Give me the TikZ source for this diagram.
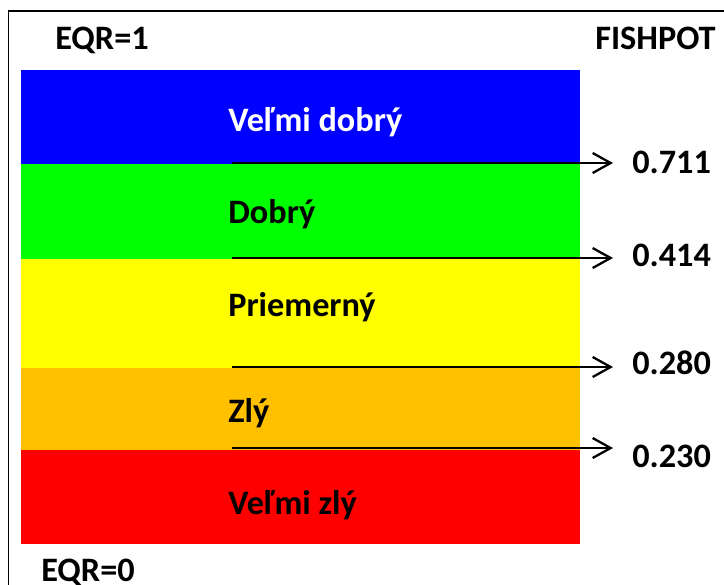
\documentclass[tikz,border=0pt]{standalone}
\usepackage{fontspec}
\setmainfont{Carlito}
\usetikzlibrary{arrows.meta}
\definecolor{bandA}{HTML}{0000FF}
\definecolor{bandB}{HTML}{00FF00}
\definecolor{bandC}{HTML}{FFFF00}
\definecolor{bandD}{HTML}{FFC000}
\definecolor{bandE}{HTML}{FF0000}

\begin{document}
\begin{tikzpicture}[x=0.02cm,y=-0.02cm,
 font=\fontsize{19.5}{23}\selectfont\bfseries,
 lab/.style={anchor=base west,inner sep=0pt},
 arr/.style={-{Straight Barb[length=3.6mm,width=4mm]},line width=1.3pt,shorten >=3.8mm}]
\useasboundingbox (0,0) rectangle (724,585);
\draw[line width=1.1pt] (8.5,11) rectangle (760,620);
% quality bands
\fill[bandA] (21,70) rectangle (580,164);
\fill[bandB] (21,164) rectangle (580,259);
\fill[bandC] (21,259) rectangle (580,368);
\fill[bandD] (21,368) rectangle (580,450);
\fill[bandE] (21,450) rectangle (580,544);
\node[lab,white] (vd) at (228,131) {Veľmi dobrý};
\node[lab] (d) at (228,223) {Dobrý};
\node[lab] (p) at (228,316) {Priemerný};
\node[lab] (z) at (228,422) {Zlý};
\node[lab] (vz) at (228,514) {Veľmi zlý};
\node[lab] (eq1) at (55,49) {EQR=1};
\node[lab] (fp) at (595,49) {FISHPOT};
\node[lab] (eq0) at (41,581) {EQR=0};
% class limits
\node[lab] (t1) at (632,173) {0.711};
\node[lab] (t2) at (632,266) {0.414};
\node[lab] (t3) at (632,374) {0.280};
\node[lab] (t4) at (632,467) {0.230};
\coordinate (s1) at (232,163);
\coordinate (s2) at (232,258);
\coordinate (s3) at (232,367);
\coordinate (s4) at (232,448);
\draw[arr] (s1)--(s1-|t1.west);\draw[arr] (s2)--(s2-|t2.west);
\draw[arr] (s3)--(s3-|t3.west);\draw[arr] (s4)--(s4-|t4.west);
\end{tikzpicture}
\end{document}
